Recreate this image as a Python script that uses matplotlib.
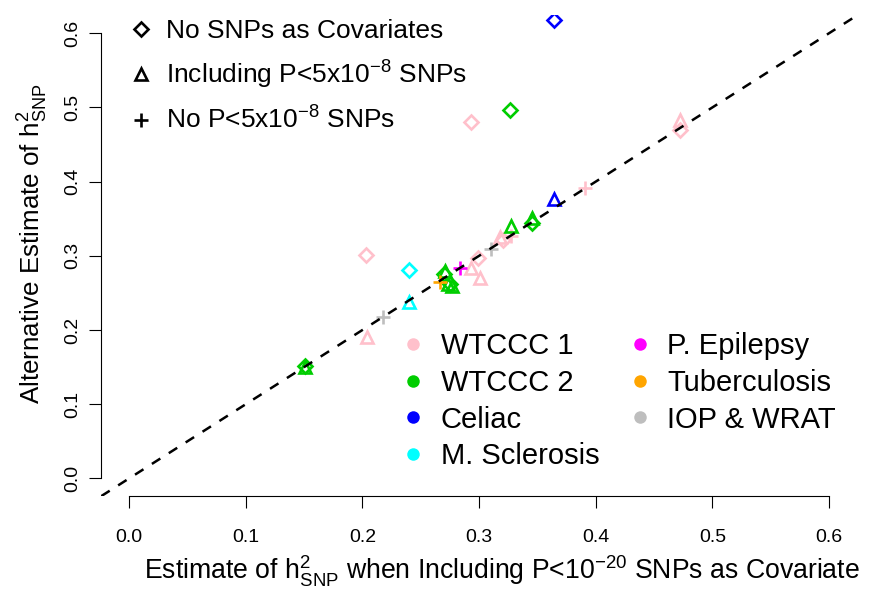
import matplotlib.pyplot as plt
from matplotlib.lines import Line2D

plt.rcParams['font.family'] = ['Liberation Sans', 'DejaVu Sans']
plt.rcParams['mathtext.fontset'] = 'custom'
plt.rcParams['mathtext.rm'] = 'Liberation Sans'
plt.rcParams['mathtext.it'] = 'Liberation Sans:italic'
plt.rcParams['mathtext.default'] = 'rm'

# cohorts and colours
cohorts = ['WTCCC 1', 'WTCCC 2', 'Celiac', 'M. Sclerosis',
           'P. Epilepsy', 'Tuberculosis', 'IOP & WRAT']
colors = ['pink', '#00CD00', 'blue', 'cyan', 'magenta', 'orange', '#BEBEBE']

# diamonds: no SNPs as covariates
dia_x = [[0.203, 0.293, 0.299, 0.3205, 0.472],
         [0.151, 0.270, 0.275, 0.3265, 0.345],
         [0.364], [0.240], [], [], []]
dia_y = [[0.301, 0.481, 0.297, 0.321, 0.470],
         [0.151, 0.275, 0.262, 0.4966, 0.344],
         [0.618], [0.2814], [], [], []]

# triangles: including P<5e-8 SNPs
tri_x = [[0.2035, 0.293, 0.3005, 0.318, 0.472],
         [0.151, 0.271, 0.273, 0.277, 0.3276, 0.345],
         [0.364], [0.240], [], [], []]
tri_y = [[0.191, 0.283, 0.270, 0.325, 0.483],
         [0.150, 0.279, 0.262, 0.259, 0.340, 0.3505],
         [0.376], [0.238], [], [], []]

# pluses: no P<5e-8 SNPs
plus_x = [[0.3276, 0.391], [], [], [], [0.2834], [0.2662], [0.218, 0.310]]
plus_y = [[0.327, 0.391], [], [], [], [0.2836], [0.265], [0.217, 0.309]]

fig = plt.figure(figsize=(8.73, 5.89), dpi=100)
ax = fig.add_axes([0.1160, 0.1577, 0.8656, 0.8160])

for i, col in enumerate(colors):
    ax.plot(dia_x[i], dia_y[i], ls='none', marker='D', ms=6.8,
            mfc='none', mec=col, mew=1.9)
    ax.plot(tri_x[i], tri_y[i], ls='none', marker='^', ms=8.5,
            mfc='none', mec=col, mew=1.9)
    ax.plot(plus_x[i], plus_y[i], ls='none', marker='+', ms=10,
            mec=col, mew=1.9)

ax.axline((0, 0), slope=1, color='black', lw=1.8, ls=(0, (4, 4)), zorder=5)

ax.set_xlim(-0.024, 0.624)
ax.set_ylim(-0.024, 0.624)
ticks = [0.0, 0.1, 0.2, 0.3, 0.4, 0.5, 0.6]
ax.set_xticks(ticks)
ax.set_yticks(ticks)
ax.set_xticklabels(['%.1f' % t for t in ticks])
ax.set_yticklabels(['%.1f' % t for t in ticks], rotation=90, va='center')
for s in ['top', 'right']:
    ax.spines[s].set_visible(False)
for s in ['left', 'bottom']:
    ax.spines[s].set_bounds(0, 0.6)
    ax.spines[s].set_linewidth(0.8)
ax.tick_params(direction='out', length=8.4, width=0.8, labelsize=14)
ax.tick_params(axis='x', pad=15)
ax.tick_params(axis='y', pad=6)

ax.set_xlabel(r'Estimate of $h^2_{SNP}$ when Including P<10$^{-20}$ SNPs as Covariate',
              fontsize=19.2)
ax.xaxis.set_label_coords(0.5297, -0.119)
ax.set_ylabel(r'Alternative Estimate of $h^2_{SNP}$', fontsize=18.7)
ax.yaxis.set_label_coords(-0.0674, 0.525)

h1 = [Line2D([], [], ls='none', marker='D', ms=6.8, mfc='none', mec='black', mew=1.9),
      Line2D([], [], ls='none', marker='^', ms=8.5, mfc='none', mec='black', mew=1.9),
      Line2D([], [], ls='none', marker='+', ms=10, mec='black', mew=1.9)]
l1 = ['No SNPs as Covariates', r'Including P<5x10$^{-8}$ SNPs',
      r'No P<5x10$^{-8}$ SNPs']
leg1 = ax.legend(h1, l1, loc='upper left', bbox_to_anchor=(127.5 / 873, 1 - 19 / 589),
                 bbox_transform=fig.transFigure, frameon=False, fontsize=19,
                 handlelength=1.0, handletextpad=0.45, labelspacing=0.6,
                 borderpad=0, borderaxespad=0)
ax.add_artist(leg1)

h2 = [Line2D([], [], ls='none', marker='o', ms=9, mfc=c, mec='none') for c in colors]
ax.legend(h2, cohorts, loc='upper left', bbox_to_anchor=(401.6 / 873, 1 - 332 / 589),
          bbox_transform=fig.transFigure, frameon=False, fontsize=21, ncol=2,
          handlelength=0.8, handletextpad=0.54, columnspacing=0.98,
          labelspacing=0.3, borderpad=0, borderaxespad=0)

fig.savefig('out.png', dpi=100)
